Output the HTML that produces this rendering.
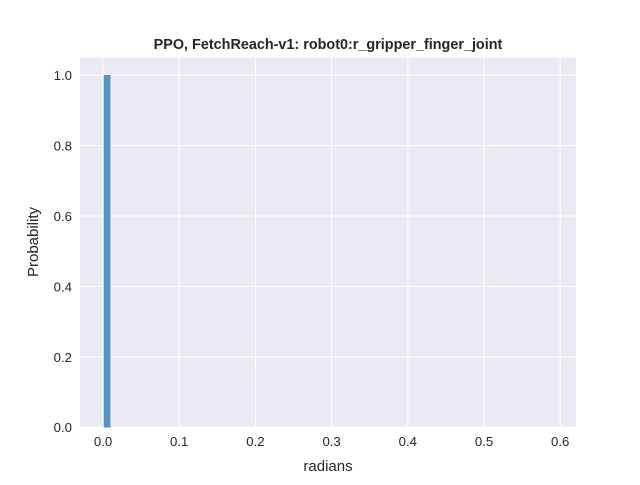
<!DOCTYPE html>
<html><head><meta charset="utf-8"><style>
body{margin:0;background:#fff;}
svg text{font-family:"Liberation Sans",Arial,sans-serif;fill:#262626;}
</style></head><body>
<svg id="chart" width="640" height="480" xmlns="http://www.w3.org/2000/svg">
<rect x="0" y="0" width="640" height="480" fill="#fff"/>
<rect x="80" y="57.6" width="496" height="369.6" fill="#eaeaf2"/>
<g id="grid"></g>
<g id="bars"></g>
<g id="ticks"></g>
<text x="328" y="49" text-anchor="middle" font-size="14.4" font-weight="bold">PPO, FetchReach-v1: robot0:r_gripper_finger_joint</text>
<text x="328" y="471" text-anchor="middle" font-size="15">radians</text>
<text transform="translate(38,242) rotate(-90)" text-anchor="middle" font-size="15">Probability</text>
</svg>
<script>
const binStarts=[0.0013];
const binWidth=0.008;
const probs=[1.0];
const xTicks=[0.0,0.1,0.2,0.3,0.4,0.5,0.6];
const yTicks=[0.0,0.2,0.4,0.6,0.8,1.0];
const L=80,R=576,T=57.6,B=427.2;
const xmin=-0.0302,xmax=0.6207,ymin=0,ymax=1.05;
const xs=v=>L+(v-xmin)/(xmax-xmin)*(R-L);
const ys=v=>B-(v-ymin)/(ymax-ymin)*(B-T);
const NS="http://www.w3.org/2000/svg";
const grid=document.getElementById('grid'),ticks=document.getElementById('ticks'),bars=document.getElementById('bars');
function mk(t,a,p){const e=document.createElementNS(NS,t);for(const k in a)e.setAttribute(k,a[k]);p.appendChild(e);return e;}
xTicks.forEach(v=>{
 const l=mk('line',{x1:xs(v),x2:xs(v),y1:T,y2:B,stroke:'#fff','stroke-width':1},grid);
 
 
 const t=mk('text',{x:xs(v),y:B+19,'text-anchor':'middle','font-size':13.2},ticks);
 t.textContent=v.toFixed(1);
 
 
});
yTicks.forEach(v=>{
 const l=mk('line',{x1:L,x2:R,y1:ys(v),y2:ys(v),stroke:'#fff','stroke-width':1},grid);
 
 
 const t=mk('text',{x:L-8,y:ys(v)+5,'text-anchor':'end','font-size':13.2},ticks);
 t.textContent=v.toFixed(1);
 
 
});
binStarts.forEach((s,i)=>{
 const x0=xs(s),x1=xs(s+binWidth);
 const r=mk('rect',{x:x0,y:ys(probs[i]),width:x1-x0,height:ys(0)-ys(probs[i]),fill:'#4c8fc6','fill-opacity':0.95,stroke:'#4c8fc6','stroke-width':0.5},bars);
 
 
});
</script>
</body></html>
